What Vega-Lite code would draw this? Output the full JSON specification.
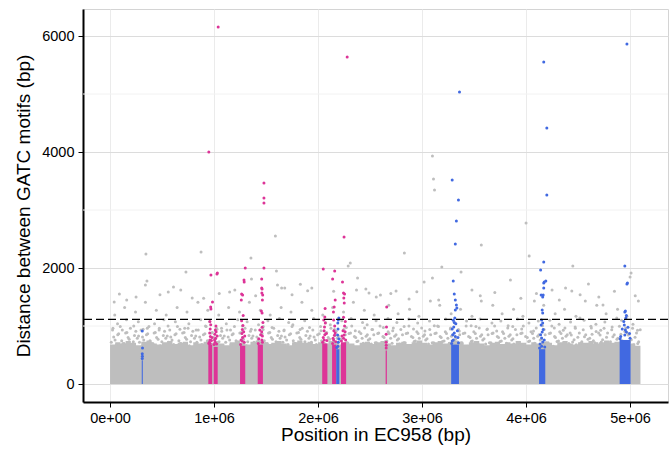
{
"width": 585, "height": 393, "autosize": "none",
"padding": {"left": 83, "top": 9, "right": 4, "bottom": 51},
"background": "white",
"config": {
 "font": "Liberation Sans",
 "view": {"stroke": "#D4D4D4", "strokeWidth": 1},
 "axis": {"domainColor": "black", "domainWidth": 2, "tickColor": "black", "tickSize": 5, "tickWidth": 1, "labelFontSize": 14.5, "labelColor": "black", "labelPadding": 4, "titleFontSize": 19, "titleFontWeight": "normal", "titleColor": "black", "labelFlush": false, "labelOverlap": false, "gridWidth": 1}
},
"datasets": {
 "minor": [{"dist": 1000}, {"dist": 3000}, {"dist": 5000}],
 "threshold": [{"dist": 1115}],
 "band": [
  {"pos":0,"dist":680},{"pos":50000,"dist":720},{"pos":100000,"dist":700},{"pos":150000,"dist":740},{"pos":200000,"dist":710},{"pos":250000,"dist":670},{"pos":300000,"dist":730},{"pos":350000,"dist":750},{"pos":400000,"dist":700},{"pos":450000,"dist":680},
  {"pos":500000,"dist":720},{"pos":550000,"dist":740},{"pos":600000,"dist":690},{"pos":650000,"dist":710},{"pos":700000,"dist":730},{"pos":750000,"dist":670},{"pos":800000,"dist":720},{"pos":850000,"dist":700},{"pos":900000,"dist":730},{"pos":950000,"dist":710},
  {"pos":1000000,"dist":740},{"pos":1050000,"dist":700},{"pos":1100000,"dist":670},{"pos":1150000,"dist":720},{"pos":1200000,"dist":750},{"pos":1250000,"dist":710},{"pos":1300000,"dist":680},{"pos":1350000,"dist":730},{"pos":1400000,"dist":750},{"pos":1450000,"dist":720},
  {"pos":1500000,"dist":690},{"pos":1550000,"dist":710},{"pos":1600000,"dist":740},{"pos":1650000,"dist":700},{"pos":1700000,"dist":670},{"pos":1750000,"dist":720},{"pos":1800000,"dist":750},{"pos":1850000,"dist":710},{"pos":1900000,"dist":730},{"pos":1950000,"dist":690},
  {"pos":2000000,"dist":720},{"pos":2050000,"dist":700},{"pos":2100000,"dist":740},{"pos":2150000,"dist":710},{"pos":2200000,"dist":680},{"pos":2250000,"dist":720},{"pos":2300000,"dist":700},{"pos":2350000,"dist":670},{"pos":2400000,"dist":710},{"pos":2450000,"dist":730},
  {"pos":2500000,"dist":690},{"pos":2550000,"dist":720},{"pos":2600000,"dist":740},{"pos":2650000,"dist":700},{"pos":2700000,"dist":670},{"pos":2750000,"dist":710},{"pos":2800000,"dist":730},{"pos":2850000,"dist":690},{"pos":2900000,"dist":720},{"pos":2950000,"dist":750},
  {"pos":3000000,"dist":710},{"pos":3050000,"dist":680},{"pos":3100000,"dist":720},{"pos":3150000,"dist":740},{"pos":3200000,"dist":700},{"pos":3250000,"dist":720},{"pos":3300000,"dist":750},{"pos":3350000,"dist":710},{"pos":3400000,"dist":680},{"pos":3450000,"dist":720},
  {"pos":3500000,"dist":740},{"pos":3550000,"dist":700},{"pos":3600000,"dist":670},{"pos":3650000,"dist":710},{"pos":3700000,"dist":730},{"pos":3750000,"dist":690},{"pos":3800000,"dist":720},{"pos":3850000,"dist":700},{"pos":3900000,"dist":740},{"pos":3950000,"dist":710},
  {"pos":4000000,"dist":680},{"pos":4050000,"dist":720},{"pos":4100000,"dist":700},{"pos":4150000,"dist":730},{"pos":4200000,"dist":710},{"pos":4250000,"dist":670},{"pos":4300000,"dist":720},{"pos":4350000,"dist":740},{"pos":4400000,"dist":700},{"pos":4450000,"dist":680},
  {"pos":4500000,"dist":720},{"pos":4550000,"dist":710},{"pos":4600000,"dist":740},{"pos":4650000,"dist":690},{"pos":4700000,"dist":720},{"pos":4750000,"dist":750},{"pos":4800000,"dist":710},{"pos":4850000,"dist":730},{"pos":4900000,"dist":750},{"pos":4950000,"dist":720},
  {"pos":5000000,"dist":700},{"pos":5050000,"dist":660},{"pos":5100000,"dist":660}
 ],
 "grey": [
  {"pos":12000,"dist":720},{"pos":35000,"dist":810},{"pos":62000,"dist":680},{"pos":83000,"dist":865},{"pos":112000,"dist":745},{"pos":136000,"dist":700},{"pos":162000,"dist":890},{"pos":184000,"dist":770},
  {"pos":212000,"dist":660},{"pos":235000,"dist":835},{"pos":262000,"dist":790},{"pos":283000,"dist":720},{"pos":312000,"dist":810},{"pos":336000,"dist":680},{"pos":362000,"dist":865},{"pos":384000,"dist":745},
  {"pos":412000,"dist":700},{"pos":435000,"dist":890},{"pos":462000,"dist":770},{"pos":483000,"dist":660},{"pos":512000,"dist":835},{"pos":536000,"dist":790},{"pos":562000,"dist":720},{"pos":584000,"dist":810},
  {"pos":612000,"dist":680},{"pos":635000,"dist":865},{"pos":662000,"dist":745},{"pos":683000,"dist":700},{"pos":712000,"dist":890},{"pos":736000,"dist":770},{"pos":762000,"dist":660},{"pos":784000,"dist":835},
  {"pos":812000,"dist":790},{"pos":835000,"dist":720},{"pos":862000,"dist":810},{"pos":883000,"dist":680},{"pos":912000,"dist":865},{"pos":936000,"dist":745},{"pos":962000,"dist":700},{"pos":984000,"dist":890},
  {"pos":1012000,"dist":770},{"pos":1035000,"dist":660},{"pos":1062000,"dist":835},{"pos":1083000,"dist":790},{"pos":1112000,"dist":720},{"pos":1136000,"dist":810},{"pos":1162000,"dist":680},{"pos":1184000,"dist":865},
  {"pos":1212000,"dist":745},{"pos":1235000,"dist":700},{"pos":1262000,"dist":890},{"pos":1283000,"dist":770},{"pos":1312000,"dist":660},{"pos":1336000,"dist":835},{"pos":1362000,"dist":790},{"pos":1384000,"dist":720},
  {"pos":1412000,"dist":810},{"pos":1435000,"dist":680},{"pos":1462000,"dist":865},{"pos":1483000,"dist":745},{"pos":1512000,"dist":700},{"pos":1536000,"dist":890},{"pos":1562000,"dist":770},{"pos":1584000,"dist":660},
  {"pos":1612000,"dist":835},{"pos":1635000,"dist":790},{"pos":1662000,"dist":720},{"pos":1683000,"dist":810},{"pos":1712000,"dist":680},{"pos":1736000,"dist":865},{"pos":1762000,"dist":745},{"pos":1784000,"dist":700},
  {"pos":1812000,"dist":890},{"pos":1835000,"dist":770},{"pos":1862000,"dist":660},{"pos":1883000,"dist":835},{"pos":1912000,"dist":790},{"pos":1936000,"dist":720},{"pos":1962000,"dist":810},{"pos":1984000,"dist":680},
  {"pos":2012000,"dist":865},{"pos":2035000,"dist":745},{"pos":2062000,"dist":700},{"pos":2083000,"dist":890},{"pos":2112000,"dist":770},{"pos":2136000,"dist":660},{"pos":2162000,"dist":835},{"pos":2184000,"dist":790},
  {"pos":2212000,"dist":760},{"pos":2235000,"dist":690},{"pos":2262000,"dist":850},{"pos":2283000,"dist":710},{"pos":2312000,"dist":880},{"pos":2336000,"dist":650},{"pos":2362000,"dist":800},{"pos":2384000,"dist":740},
  {"pos":2412000,"dist":870},{"pos":2435000,"dist":705},{"pos":2462000,"dist":825},{"pos":2483000,"dist":760},{"pos":2512000,"dist":690},{"pos":2536000,"dist":850},{"pos":2562000,"dist":710},{"pos":2584000,"dist":880},
  {"pos":2612000,"dist":650},{"pos":2635000,"dist":800},{"pos":2662000,"dist":740},{"pos":2683000,"dist":870},{"pos":2712000,"dist":705},{"pos":2736000,"dist":825},{"pos":2762000,"dist":760},{"pos":2784000,"dist":690},
  {"pos":2812000,"dist":850},{"pos":2835000,"dist":710},{"pos":2862000,"dist":880},{"pos":2883000,"dist":650},{"pos":2912000,"dist":800},{"pos":2936000,"dist":740},{"pos":2962000,"dist":870},{"pos":2984000,"dist":705},
  {"pos":3012000,"dist":825},{"pos":3035000,"dist":760},{"pos":3062000,"dist":690},{"pos":3083000,"dist":850},{"pos":3112000,"dist":710},{"pos":3136000,"dist":880},{"pos":3162000,"dist":650},{"pos":3184000,"dist":800},
  {"pos":3212000,"dist":740},{"pos":3235000,"dist":870},{"pos":3262000,"dist":705},{"pos":3283000,"dist":825},{"pos":3312000,"dist":760},{"pos":3336000,"dist":690},{"pos":3362000,"dist":850},{"pos":3384000,"dist":710},
  {"pos":3412000,"dist":880},{"pos":3435000,"dist":650},{"pos":3462000,"dist":800},{"pos":3483000,"dist":740},{"pos":3512000,"dist":870},{"pos":3536000,"dist":705},{"pos":3562000,"dist":825},{"pos":3584000,"dist":760},
  {"pos":3612000,"dist":690},{"pos":3635000,"dist":850},{"pos":3662000,"dist":710},{"pos":3683000,"dist":880},{"pos":3712000,"dist":650},{"pos":3736000,"dist":800},{"pos":3762000,"dist":740},{"pos":3784000,"dist":870},
  {"pos":3812000,"dist":705},{"pos":3835000,"dist":825},{"pos":3862000,"dist":760},{"pos":3883000,"dist":690},{"pos":3912000,"dist":850},{"pos":3936000,"dist":710},{"pos":3962000,"dist":880},{"pos":3984000,"dist":650},
  {"pos":4012000,"dist":800},{"pos":4035000,"dist":740},{"pos":4062000,"dist":870},{"pos":4083000,"dist":705},{"pos":4112000,"dist":825},{"pos":4136000,"dist":760},{"pos":4162000,"dist":690},{"pos":4184000,"dist":850},
  {"pos":4212000,"dist":710},{"pos":4235000,"dist":880},{"pos":4262000,"dist":650},{"pos":4283000,"dist":800},{"pos":4312000,"dist":740},{"pos":4336000,"dist":870},{"pos":4362000,"dist":705},{"pos":4384000,"dist":825},
  {"pos":4412000,"dist":700},{"pos":4435000,"dist":845},{"pos":4462000,"dist":765},{"pos":4483000,"dist":675},{"pos":4512000,"dist":880},{"pos":4536000,"dist":730},{"pos":4562000,"dist":815},{"pos":4584000,"dist":655},
  {"pos":4612000,"dist":790},{"pos":4635000,"dist":860},{"pos":4662000,"dist":710},{"pos":4683000,"dist":700},{"pos":4712000,"dist":845},{"pos":4736000,"dist":765},{"pos":4762000,"dist":675},{"pos":4784000,"dist":880},
  {"pos":4812000,"dist":730},{"pos":4835000,"dist":815},{"pos":4862000,"dist":655},{"pos":4883000,"dist":790},{"pos":4912000,"dist":860},{"pos":4936000,"dist":710},{"pos":4962000,"dist":700},{"pos":4984000,"dist":845},
  {"pos":5012000,"dist":765},{"pos":5035000,"dist":675},{"pos":5062000,"dist":880},{"pos":5083000,"dist":730},
  {"pos":24000,"dist":930},{"pos":48000,"dist":760},{"pos":74000,"dist":850},{"pos":98000,"dist":990},{"pos":124000,"dist":700},{"pos":150000,"dist":880},{"pos":174000,"dist":800},{"pos":196000,"dist":960},
  {"pos":224000,"dist":730},{"pos":248000,"dist":910},{"pos":274000,"dist":830},{"pos":298000,"dist":930},{"pos":324000,"dist":760},{"pos":350000,"dist":850},{"pos":374000,"dist":990},{"pos":396000,"dist":700},
  {"pos":424000,"dist":880},{"pos":448000,"dist":800},{"pos":474000,"dist":960},{"pos":498000,"dist":730},{"pos":524000,"dist":910},{"pos":550000,"dist":830},{"pos":574000,"dist":930},{"pos":596000,"dist":760},
  {"pos":624000,"dist":850},{"pos":648000,"dist":990},{"pos":674000,"dist":700},{"pos":698000,"dist":880},{"pos":724000,"dist":800},{"pos":750000,"dist":960},{"pos":774000,"dist":730},{"pos":796000,"dist":910},
  {"pos":824000,"dist":830},{"pos":848000,"dist":930},{"pos":874000,"dist":760},{"pos":898000,"dist":850},{"pos":924000,"dist":990},{"pos":950000,"dist":700},{"pos":974000,"dist":880},{"pos":996000,"dist":800},
  {"pos":1024000,"dist":960},{"pos":1048000,"dist":730},{"pos":1074000,"dist":910},{"pos":1098000,"dist":830},{"pos":1124000,"dist":930},{"pos":1150000,"dist":760},{"pos":1174000,"dist":850},{"pos":1196000,"dist":990},
  {"pos":1224000,"dist":700},{"pos":1248000,"dist":880},{"pos":1274000,"dist":800},{"pos":1298000,"dist":960},{"pos":1324000,"dist":730},{"pos":1350000,"dist":910},{"pos":1374000,"dist":830},{"pos":1396000,"dist":930},
  {"pos":1424000,"dist":760},{"pos":1448000,"dist":850},{"pos":1474000,"dist":990},{"pos":1498000,"dist":700},{"pos":1524000,"dist":880},{"pos":1550000,"dist":800},{"pos":1574000,"dist":960},{"pos":1596000,"dist":730},
  {"pos":1624000,"dist":910},{"pos":1648000,"dist":830},{"pos":1674000,"dist":930},{"pos":1698000,"dist":760},{"pos":1724000,"dist":850},{"pos":1750000,"dist":990},{"pos":1774000,"dist":700},{"pos":1796000,"dist":880},
  {"pos":1824000,"dist":800},{"pos":1848000,"dist":960},{"pos":1874000,"dist":730},{"pos":1898000,"dist":910},{"pos":1924000,"dist":830},{"pos":1950000,"dist":930},{"pos":1974000,"dist":760},{"pos":1996000,"dist":850},
  {"pos":2024000,"dist":990},{"pos":2048000,"dist":700},{"pos":2074000,"dist":880},{"pos":2098000,"dist":800},{"pos":2124000,"dist":960},{"pos":2150000,"dist":730},{"pos":2174000,"dist":910},{"pos":2196000,"dist":830},
  {"pos":2224000,"dist":780},{"pos":2248000,"dist":940},{"pos":2274000,"dist":710},{"pos":2298000,"dist":870},{"pos":2324000,"dist":1000},{"pos":2350000,"dist":820},{"pos":2374000,"dist":735},{"pos":2396000,"dist":900},
  {"pos":2424000,"dist":790},{"pos":2448000,"dist":965},{"pos":2474000,"dist":850},{"pos":2498000,"dist":780},{"pos":2524000,"dist":940},{"pos":2550000,"dist":710},{"pos":2574000,"dist":870},{"pos":2596000,"dist":1000},
  {"pos":2624000,"dist":820},{"pos":2648000,"dist":735},{"pos":2674000,"dist":900},{"pos":2698000,"dist":790},{"pos":2724000,"dist":965},{"pos":2750000,"dist":850},{"pos":2774000,"dist":780},{"pos":2796000,"dist":940},
  {"pos":2824000,"dist":710},{"pos":2848000,"dist":870},{"pos":2874000,"dist":1000},{"pos":2898000,"dist":820},{"pos":2924000,"dist":735},{"pos":2950000,"dist":900},{"pos":2974000,"dist":790},{"pos":2996000,"dist":965},
  {"pos":3024000,"dist":850},{"pos":3048000,"dist":780},{"pos":3074000,"dist":940},{"pos":3098000,"dist":710},{"pos":3124000,"dist":870},{"pos":3150000,"dist":1000},{"pos":3174000,"dist":820},{"pos":3196000,"dist":735},
  {"pos":3224000,"dist":900},{"pos":3248000,"dist":790},{"pos":3274000,"dist":965},{"pos":3298000,"dist":850},{"pos":3324000,"dist":780},{"pos":3350000,"dist":940},{"pos":3374000,"dist":710},{"pos":3396000,"dist":870},
  {"pos":3424000,"dist":1000},{"pos":3448000,"dist":820},{"pos":3474000,"dist":735},{"pos":3498000,"dist":900},{"pos":3524000,"dist":790},{"pos":3550000,"dist":965},{"pos":3574000,"dist":850},{"pos":3596000,"dist":780},
  {"pos":3624000,"dist":940},{"pos":3648000,"dist":710},{"pos":3674000,"dist":870},{"pos":3698000,"dist":1000},{"pos":3724000,"dist":820},{"pos":3750000,"dist":735},{"pos":3774000,"dist":900},{"pos":3796000,"dist":790},
  {"pos":3824000,"dist":965},{"pos":3848000,"dist":850},{"pos":3874000,"dist":780},{"pos":3898000,"dist":940},{"pos":3924000,"dist":710},{"pos":3950000,"dist":870},{"pos":3974000,"dist":1000},{"pos":3996000,"dist":820},
  {"pos":4024000,"dist":735},{"pos":4048000,"dist":900},{"pos":4074000,"dist":790},{"pos":4098000,"dist":965},{"pos":4124000,"dist":850},{"pos":4150000,"dist":780},{"pos":4174000,"dist":940},{"pos":4196000,"dist":710},
  {"pos":4224000,"dist":870},{"pos":4248000,"dist":1000},{"pos":4274000,"dist":820},{"pos":4298000,"dist":735},{"pos":4324000,"dist":900},{"pos":4350000,"dist":790},{"pos":4374000,"dist":965},{"pos":4396000,"dist":850},
  {"pos":4424000,"dist":880},{"pos":4448000,"dist":725},{"pos":4474000,"dist":960},{"pos":4498000,"dist":805},{"pos":4524000,"dist":700},{"pos":4550000,"dist":935},{"pos":4574000,"dist":850},{"pos":4596000,"dist":770},
  {"pos":4624000,"dist":995},{"pos":4648000,"dist":745},{"pos":4674000,"dist":905},{"pos":4698000,"dist":880},{"pos":4724000,"dist":725},{"pos":4750000,"dist":960},{"pos":4774000,"dist":805},{"pos":4796000,"dist":700},
  {"pos":4824000,"dist":935},{"pos":4848000,"dist":850},{"pos":4874000,"dist":770},{"pos":4898000,"dist":995},{"pos":4924000,"dist":745},{"pos":4950000,"dist":905},{"pos":4974000,"dist":880},{"pos":4996000,"dist":725},
  {"pos":5024000,"dist":960},{"pos":5048000,"dist":805},{"pos":5074000,"dist":700},{"pos":5098000,"dist":935},
  {"pos":28000,"dist":960},{"pos":72000,"dist":1040},{"pos":118000,"dist":930},{"pos":158000,"dist":1110},
  {"pos":228000,"dist":1000},{"pos":272000,"dist":1075},{"pos":318000,"dist":945},{"pos":358000,"dist":960},
  {"pos":428000,"dist":1040},{"pos":472000,"dist":930},{"pos":518000,"dist":1110},{"pos":558000,"dist":1000},
  {"pos":628000,"dist":1075},{"pos":672000,"dist":945},{"pos":718000,"dist":960},{"pos":758000,"dist":1040},
  {"pos":828000,"dist":930},{"pos":872000,"dist":1110},{"pos":918000,"dist":1000},{"pos":958000,"dist":1075},
  {"pos":1028000,"dist":945},{"pos":1072000,"dist":960},{"pos":1118000,"dist":1040},{"pos":1158000,"dist":930},
  {"pos":1228000,"dist":1110},{"pos":1272000,"dist":1000},{"pos":1318000,"dist":1075},{"pos":1358000,"dist":945},
  {"pos":1428000,"dist":1020},{"pos":1472000,"dist":940},{"pos":1518000,"dist":1090},{"pos":1558000,"dist":975},
  {"pos":1628000,"dist":1130},{"pos":1672000,"dist":920},{"pos":1718000,"dist":1060},{"pos":1758000,"dist":1020},
  {"pos":1828000,"dist":940},{"pos":1872000,"dist":1090},{"pos":1918000,"dist":975},{"pos":1958000,"dist":1130},
  {"pos":2028000,"dist":920},{"pos":2072000,"dist":1060},{"pos":2118000,"dist":1020},{"pos":2158000,"dist":940},
  {"pos":2228000,"dist":1090},{"pos":2272000,"dist":975},{"pos":2318000,"dist":1130},{"pos":2358000,"dist":920},
  {"pos":2428000,"dist":1060},{"pos":2472000,"dist":1020},{"pos":2518000,"dist":940},{"pos":2558000,"dist":1090},
  {"pos":2628000,"dist":975},{"pos":2672000,"dist":1130},{"pos":2718000,"dist":920},{"pos":2758000,"dist":1060},
  {"pos":2828000,"dist":990},{"pos":2872000,"dist":1120},{"pos":2918000,"dist":950},{"pos":2958000,"dist":1050},
  {"pos":3028000,"dist":915},{"pos":3072000,"dist":1085},{"pos":3118000,"dist":1005},{"pos":3158000,"dist":990},
  {"pos":3228000,"dist":1120},{"pos":3272000,"dist":950},{"pos":3318000,"dist":1050},{"pos":3358000,"dist":915},
  {"pos":3428000,"dist":1085},{"pos":3472000,"dist":1005},{"pos":3518000,"dist":990},{"pos":3558000,"dist":1120},
  {"pos":3628000,"dist":950},{"pos":3672000,"dist":1050},{"pos":3718000,"dist":915},{"pos":3758000,"dist":1085},
  {"pos":3828000,"dist":1005},{"pos":3872000,"dist":990},{"pos":3918000,"dist":1120},{"pos":3958000,"dist":950},
  {"pos":4028000,"dist":1050},{"pos":4072000,"dist":915},{"pos":4118000,"dist":1085},{"pos":4158000,"dist":1005},
  {"pos":4228000,"dist":1100},{"pos":4272000,"dist":965},{"pos":4318000,"dist":1030},{"pos":4358000,"dist":925},
  {"pos":4428000,"dist":1070},{"pos":4472000,"dist":985},{"pos":4518000,"dist":1140},{"pos":4558000,"dist":1100},
  {"pos":4628000,"dist":965},{"pos":4672000,"dist":1030},{"pos":4718000,"dist":925},{"pos":4758000,"dist":1070},
  {"pos":4828000,"dist":985},{"pos":4872000,"dist":1140},{"pos":4918000,"dist":1100},{"pos":4958000,"dist":965},
  {"pos":5028000,"dist":1030},{"pos":5072000,"dist":925},
  {"pos":45000,"dist":1190},{"pos":140000,"dist":1320},{"pos":245000,"dist":1240},{"pos":340000,"dist":1410},{"pos":445000,"dist":1270},{"pos":540000,"dist":1190},{"pos":645000,"dist":1320},{"pos":740000,"dist":1240},{"pos":845000,"dist":1410},{"pos":940000,"dist":1270},
  {"pos":1045000,"dist":1190},{"pos":1140000,"dist":1320},{"pos":1245000,"dist":1240},{"pos":1340000,"dist":1410},{"pos":1445000,"dist":1270},{"pos":1540000,"dist":1190},{"pos":1645000,"dist":1320},{"pos":1740000,"dist":1240},{"pos":1845000,"dist":1410},{"pos":1940000,"dist":1270},
  {"pos":2045000,"dist":1190},{"pos":2140000,"dist":1320},{"pos":2245000,"dist":1240},{"pos":2340000,"dist":1410},{"pos":2445000,"dist":1270},{"pos":2540000,"dist":1190},{"pos":2680000,"dist":1360},{"pos":2770000,"dist":1210},{"pos":2880000,"dist":1290},{"pos":2970000,"dist":1170},
  {"pos":3080000,"dist":1430},{"pos":3170000,"dist":1360},{"pos":3280000,"dist":1210},{"pos":3370000,"dist":1290},{"pos":3480000,"dist":1170},{"pos":3570000,"dist":1430},{"pos":3680000,"dist":1360},{"pos":3770000,"dist":1210},{"pos":3880000,"dist":1290},{"pos":3970000,"dist":1170},
  {"pos":4080000,"dist":1430},{"pos":4170000,"dist":1360},{"pos":4280000,"dist":1210},{"pos":4370000,"dist":1290},{"pos":4480000,"dist":1170},{"pos":4570000,"dist":1430},{"pos":4680000,"dist":1360},{"pos":4770000,"dist":1210},{"pos":4880000,"dist":1290},{"pos":4970000,"dist":1170},{"pos":5080000,"dist":1430},
  {"pos":3100000,"dist":3931},{"pos":3110000,"dist":3534},{"pos":3120000,"dist":3345},{"pos":4000000,"dist":2776},{"pos":3570000,"dist":2397},{"pos":2830000,"dist":2259},{"pos":4030000,"dist":2207},{"pos":2310000,"dist":2086},{"pos":2290000,"dist":2034},{"pos":3190000,"dist":2017},
  {"pos":3375000,"dist":1931},{"pos":4450000,"dist":2034},{"pos":5010000,"dist":1914},{"pos":5000000,"dist":1845},{"pos":1590000,"dist":2552},{"pos":875000,"dist":2276},{"pos":345000,"dist":2241},{"pos":1355000,"dist":2172},{"pos":730000,"dist":1931},{"pos":1600000,"dist":1948},
  {"pos":1360000,"dist":1810},{"pos":355000,"dist":1776},{"pos":340000,"dist":1707},{"pos":610000,"dist":1672},{"pos":560000,"dist":1586},{"pos":90000,"dist":1552},{"pos":160000,"dist":1448},{"pos":40000,"dist":1414},{"pos":1940000,"dist":1655},{"pos":1650000,"dist":1655},
  {"pos":1610000,"dist":1707},{"pos":1680000,"dist":1655},{"pos":790000,"dist":1483},{"pos":1150000,"dist":1586},{"pos":2380000,"dist":1828},{"pos":2370000,"dist":1621},{"pos":2490000,"dist":1569},{"pos":2600000,"dist":1534},{"pos":2750000,"dist":1603},{"pos":2875000,"dist":1466},
  {"pos":3020000,"dist":1759},{"pos":3100000,"dist":1828},{"pos":3160000,"dist":1448},{"pos":3850000,"dist":1793},{"pos":4380000,"dist":1655},{"pos":4440000,"dist":1603},{"pos":4600000,"dist":1724},{"pos":4700000,"dist":1500},{"pos":4320000,"dist":1448},{"pos":4740000,"dist":1362},
  {"pos":1830000,"dist":1720},{"pos":1900000,"dist":1610},{"pos":2460000,"dist":1640},{"pos":2560000,"dist":1500},{"pos":2700000,"dist":1560},{"pos":2950000,"dist":1590},{"pos":3480000,"dist":1620},{"pos":3560000,"dist":1520},{"pos":3700000,"dist":1580},{"pos":3950000,"dist":1480},
  {"pos":4100000,"dist":1560},{"pos":4250000,"dist":1620},{"pos":4520000,"dist":1540},{"pos":4850000,"dist":1600},{"pos":5050000,"dist":1520},{"pos":1050000,"dist":1560},{"pos":1200000,"dist":1620},{"pos":1400000,"dist":1520},{"pos":1750000,"dist":1540},{"pos":2150000,"dist":1600},
  {"pos":250000,"dist":1500},{"pos":480000,"dist":1540},{"pos":680000,"dist":1620},{"pos":900000,"dist":1480}
 ],
 "pinkCore": [
  {"pos":945000,"end":982000,"dist":680},{"pos":997000,"end":1035000,"dist":640},{"pos":1250000,"end":1300000,"dist":660},{"pos":1420000,"end":1470000,"dist":680},{"pos":2040000,"end":2090000,"dist":700},{"pos":2135000,"end":2175000,"dist":680},{"pos":2220000,"end":2270000,"dist":720},{"pos":2650000,"end":2662000,"dist":580}
 ],
 "blueCore": [
  {"pos":305000,"end":315000,"dist":410},{"pos":2175000,"end":2205000,"dist":600},{"pos":3280000,"end":3355000,"dist":680},{"pos":4125000,"end":4185000,"dist":600},{"pos":4900000,"end":5005000,"dist":760}
 ],
 "pink": [
  {"pos":950000,"dist":700},{"pos":975000,"dist":750},{"pos":955000,"dist":720},{"pos":980000,"dist":800},{"pos":962000,"dist":700},
  {"pos":1000000,"dist":680},{"pos":1025000,"dist":690},{"pos":1005000,"dist":760},{"pos":1030000,"dist":830},{"pos":1020000,"dist":900},
  {"pos":960000,"dist":760},{"pos":965000,"dist":820},{"pos":958000,"dist":880},{"pos":963000,"dist":950},{"pos":968000,"dist":1020},{"pos":960000,"dist":1080},{"pos":1010000,"dist":720},{"pos":1015000,"dist":790},{"pos":1008000,"dist":860},{"pos":1012000,"dist":930},{"pos":1018000,"dist":1000},
  {"pos":970000,"dist":1293},{"pos":968000,"dist":1328},{"pos":985000,"dist":1414},{"pos":970000,"dist":1879},{"pos":1028000,"dist":1897},{"pos":1032000,"dist":1914},{"pos":950000,"dist":4000},{"pos":1040000,"dist":6155},
  {"pos":1255000,"dist":680},{"pos":1290000,"dist":720},{"pos":1260000,"dist":760},{"pos":1295000,"dist":830},{"pos":1285000,"dist":900},
  {"pos":1270000,"dist":740},{"pos":1275000,"dist":800},{"pos":1268000,"dist":870},{"pos":1272000,"dist":940},{"pos":1278000,"dist":1010},{"pos":1265000,"dist":1090},{"pos":1280000,"dist":1180},{"pos":1262000,"dist":1448},{"pos":1265000,"dist":1552},{"pos":1275000,"dist":1534},{"pos":1290000,"dist":1759},{"pos":1288000,"dist":1793},{"pos":1300000,"dist":2000},
  {"pos":1425000,"dist":700},{"pos":1465000,"dist":720},{"pos":1430000,"dist":780},{"pos":1450000,"dist":850},{"pos":1440000,"dist":930},
  {"pos":1460000,"dist":760},{"pos":1465000,"dist":830},{"pos":1458000,"dist":900},{"pos":1462000,"dist":980},{"pos":1470000,"dist":1060},{"pos":1455000,"dist":1259},{"pos":1462000,"dist":1224},{"pos":1465000,"dist":1448},{"pos":1468000,"dist":1534},{"pos":1458000,"dist":1655},{"pos":1460000,"dist":1569},{"pos":1462000,"dist":1638},{"pos":1458000,"dist":1810},{"pos":1480000,"dist":2000},{"pos":1480000,"dist":3121},{"pos":1480000,"dist":3207},{"pos":1480000,"dist":3466},
  {"pos":2045000,"dist":720},{"pos":2085000,"dist":750},{"pos":2050000,"dist":800},{"pos":2080000,"dist":870},{"pos":2070000,"dist":1050},
  {"pos":2060000,"dist":760},{"pos":2065000,"dist":850},{"pos":2058000,"dist":920},{"pos":2062000,"dist":983},{"pos":2055000,"dist":1103},{"pos":2065000,"dist":1155},{"pos":2050000,"dist":1983},{"pos":2068000,"dist":1300},
  {"pos":2140000,"dist":700},{"pos":2170000,"dist":730},{"pos":2145000,"dist":790},{"pos":2165000,"dist":880},
  {"pos":2150000,"dist":760},{"pos":2158000,"dist":840},{"pos":2152000,"dist":920},{"pos":2160000,"dist":1000},{"pos":2150000,"dist":1103},{"pos":2148000,"dist":1241},{"pos":2155000,"dist":1328},{"pos":2165000,"dist":1448},{"pos":2160000,"dist":1948},{"pos":2140000,"dist":1810},
  {"pos":2225000,"dist":740},{"pos":2265000,"dist":760},{"pos":2230000,"dist":830},{"pos":2260000,"dist":900},{"pos":2262000,"dist":1080},
  {"pos":2245000,"dist":790},{"pos":2250000,"dist":845},{"pos":2240000,"dist":920},{"pos":2255000,"dist":1000},{"pos":2245000,"dist":1150},{"pos":2252000,"dist":1397},{"pos":2248000,"dist":1483},{"pos":2255000,"dist":1552},{"pos":2235000,"dist":1759},{"pos":2245000,"dist":1569},{"pos":2250000,"dist":2534},{"pos":2280000,"dist":5640},
  {"pos":2655000,"dist":620},{"pos":2656000,"dist":670},{"pos":2655000,"dist":720},{"pos":2655000,"dist":860},{"pos":2658000,"dist":983},{"pos":2660000,"dist":1328}
 ],
 "blue": [
  {"pos":310000,"dist":440},{"pos":311000,"dist":480},{"pos":310000,"dist":520},{"pos":312000,"dist":620},{"pos":310000,"dist":914},
  {"pos":2180000,"dist":630},{"pos":2200000,"dist":780},
  {"pos":2190000,"dist":650},{"pos":2195000,"dist":720},{"pos":2188000,"dist":845},{"pos":2192000,"dist":950},{"pos":2190000,"dist":1052},{"pos":2195000,"dist":1103},{"pos":2200000,"dist":1138},
  {"pos":3285000,"dist":700},{"pos":3350000,"dist":710},{"pos":3290000,"dist":740},{"pos":3345000,"dist":800},{"pos":3295000,"dist":850},{"pos":3340000,"dist":920},{"pos":3325000,"dist":1040},{"pos":3310000,"dist":1060},
  {"pos":3300000,"dist":760},{"pos":3320000,"dist":820},{"pos":3310000,"dist":880},{"pos":3290000,"dist":950},{"pos":3305000,"dist":983},{"pos":3300000,"dist":1100},{"pos":3315000,"dist":1138},{"pos":3320000,"dist":1276},{"pos":3335000,"dist":1310},{"pos":3330000,"dist":1362},{"pos":3320000,"dist":1448},{"pos":3310000,"dist":1552},{"pos":3300000,"dist":1776},{"pos":3320000,"dist":2414},{"pos":3330000,"dist":2810},{"pos":3350000,"dist":3172},{"pos":3290000,"dist":3517},{"pos":3360000,"dist":5034},
  {"pos":4130000,"dist":620},{"pos":4180000,"dist":640},{"pos":4135000,"dist":690},{"pos":4175000,"dist":760},{"pos":4140000,"dist":850},{"pos":4165000,"dist":940},
  {"pos":4150000,"dist":650},{"pos":4160000,"dist":724},{"pos":4150000,"dist":793},{"pos":4155000,"dist":897},{"pos":4145000,"dist":1017},{"pos":4160000,"dist":1052},{"pos":4150000,"dist":1103},{"pos":4160000,"dist":1224},{"pos":4155000,"dist":1276},{"pos":4160000,"dist":1500},{"pos":4165000,"dist":1534},{"pos":4145000,"dist":1534},{"pos":4170000,"dist":1655},{"pos":4170000,"dist":1741},{"pos":4175000,"dist":1759},{"pos":4190000,"dist":1776},{"pos":4140000,"dist":1966},{"pos":4170000,"dist":2103},{"pos":4200000,"dist":3259},{"pos":4200000,"dist":4414},{"pos":4170000,"dist":5552},
  {"pos":4905000,"dist":780},{"pos":5000000,"dist":790},{"pos":4910000,"dist":820},{"pos":4995000,"dist":870},{"pos":4925000,"dist":950},{"pos":4980000,"dist":980},{"pos":4940000,"dist":1080},{"pos":4965000,"dist":1180},
  {"pos":4950000,"dist":845},{"pos":4965000,"dist":897},{"pos":4955000,"dist":931},{"pos":4945000,"dist":1017},{"pos":4960000,"dist":1138},{"pos":4950000,"dist":1241},{"pos":4955000,"dist":1259},{"pos":4970000,"dist":1724},{"pos":4975000,"dist":1741},{"pos":4950000,"dist":2034},{"pos":4970000,"dist":5862}
 ]
},
"layer": [
 {"data": {"name": "minor"}, "mark": {"type": "rule", "color": "#F2F2F2", "strokeWidth": 1},
  "encoding": {"y": {"field": "dist", "type": "quantitative", "scale": {"domain": [-310, 6466], "nice": false, "zero": false}, "axis": {"values": [0, 2000, 4000, 6000], "format": "d", "grid": true, "gridColor": "#DCDCDC", "title": "Distance between GATC motifs (bp)", "titlePadding": 8}}}},
 {"data": {"name": "band"}, "mark": {"type": "area", "color": "#BEBEBE", "interpolate": "step-after"},
  "encoding": {
   "x": {"field": "pos", "type": "quantitative", "scale": {"domain": [-260000, 5365000], "nice": false, "zero": false}, "axis": {"values": [0, 1000000, 2000000, 3000000, 4000000, 5000000], "labelExpr": "datum.value == 0 ? '0e+00' : format(datum.value / 1000000, 'd') + 'e+06'", "grid": true, "gridColor": "#EBEBEB", "title": "Position in EC958 (bp)", "titlePadding": 1}},
   "y": {"field": "dist", "type": "quantitative", "scale": {"domain": [-310, 6466], "nice": false, "zero": false}, "axis": {"values": [0, 2000, 4000, 6000], "format": "d", "grid": true, "gridColor": "#DCDCDC", "title": "Distance between GATC motifs (bp)", "titlePadding": 8}},
   "y2": {"datum": 0}}},
 {"data": {"name": "grey"}, "mark": {"type": "circle", "size": 9, "opacity": 1, "color": "#BEBEBE"},
  "encoding": {"x": {"field": "pos", "type": "quantitative", "title": "Position in EC958 (bp)"}, "y": {"field": "dist", "type": "quantitative", "title": "Distance between GATC motifs (bp)"}}},
 {"data": {"name": "pinkCore"}, "mark": {"type": "rect", "color": "#DD3497"},
  "encoding": {"x": {"field": "pos", "type": "quantitative", "title": "Position in EC958 (bp)"}, "x2": {"field": "end"}, "y": {"field": "dist", "type": "quantitative", "title": "Distance between GATC motifs (bp)"}, "y2": {"datum": 0}}},
 {"data": {"name": "blueCore"}, "mark": {"type": "rect", "color": "#4169E1"},
  "encoding": {"x": {"field": "pos", "type": "quantitative", "title": "Position in EC958 (bp)"}, "x2": {"field": "end"}, "y": {"field": "dist", "type": "quantitative", "title": "Distance between GATC motifs (bp)"}, "y2": {"datum": 0}}},
 {"data": {"name": "pink"}, "mark": {"type": "circle", "size": 9, "opacity": 1, "color": "#DD3497"},
  "encoding": {"x": {"field": "pos", "type": "quantitative", "title": "Position in EC958 (bp)"}, "y": {"field": "dist", "type": "quantitative", "title": "Distance between GATC motifs (bp)"}}},
 {"data": {"name": "blue"}, "mark": {"type": "circle", "size": 9, "opacity": 1, "color": "#4169E1"},
  "encoding": {"x": {"field": "pos", "type": "quantitative", "title": "Position in EC958 (bp)"}, "y": {"field": "dist", "type": "quantitative", "title": "Distance between GATC motifs (bp)"}}},
 {"data": {"name": "threshold"}, "mark": {"type": "rule", "color": "black", "strokeWidth": 1.4, "strokeDash": [8, 4]},
  "encoding": {"y": {"field": "dist", "type": "quantitative", "title": "Distance between GATC motifs (bp)"}}}
]
}
